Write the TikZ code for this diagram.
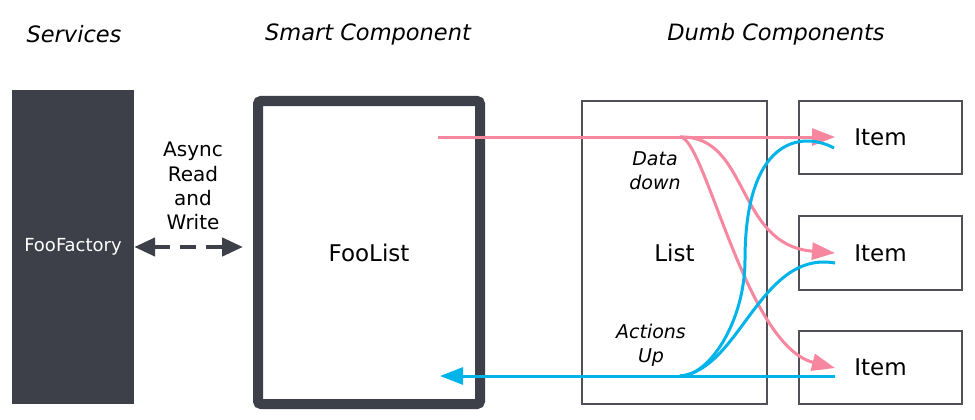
\documentclass[tikz,border=0pt]{standalone}
\usepackage{fontspec}
\setmainfont{DejaVu Sans}
\usetikzlibrary{arrows.meta,calc}
\definecolor{darkbox}{HTML}{3E4049}
\definecolor{pinkline}{HTML}{F6879F}
\definecolor{blueline}{HTML}{00B4EA}
\definecolor{grayedge}{HTML}{505056}
\begin{document}
\begin{tikzpicture}[x=1pt,y=-1pt,
  header/.style={font=\fontsize{22.5}{26}\selectfont\itshape, anchor=center},
  thinbox/.style={draw=grayedge, line width=1.5pt, fill=white, font=\fontsize{23}{26}\selectfont},
  note/.style={font=\fontsize{19}{24}\selectfont\itshape, align=center},
  pinkarrow/.style={pinkline, line width=3pt, -{Triangle[length=23pt,width=17pt]}},
  bluearrow/.style={blueline, line width=3pt, -{Triangle[length=23pt,width=17pt]}},
  bluecurve/.style={blueline, line width=3pt},
  dasharrow/.style={darkbox, line width=4.5pt, dash pattern=on 16pt off 10pt,
     {Triangle[length=21pt,width=18pt]}-{Triangle[length=21pt,width=18pt]}}
]
\useasboundingbox (0,0) rectangle (975,420);
\fill[white] (0,0) rectangle (975,420);

% headers
\node[header] (hserv) at (74,34) {Services};
\node[header] (hsmart) at (368,34) {Smart Component};
\node[header] (hdumb) at (776,34) {Dumb Components};

% service
\node[fill=darkbox, minimum width=122pt, minimum height=314pt, inner sep=0pt,
      text=white, font=\fontsize{18}{20}\selectfont] (factory) at (73,247) {FooFactory};

% smart component
\node[draw=darkbox, line width=10pt, rounded corners=3pt, minimum width=222pt,
      minimum height=303pt, inner sep=0pt, font=\fontsize{23}{26}\selectfont] (foolist) at (369,252.5) {FooList};

\node[font=\fontsize{20}{24.3}\selectfont, align=center] (async) at (193,186) {Async\\Read\\and\\Write};

\draw[dasharrow, shorten >=10pt] (factory.east) -- (factory.east -| foolist.west);

% dumb components
\node[thinbox, minimum width=185pt, minimum height=303pt, inner sep=0pt] (list) at (674.5,252.5) {List};
\node[thinbox, minimum width=163pt, minimum height=73pt, inner sep=0pt] (item1) at (880.5,137.5) {Item};
\node[thinbox, minimum width=163pt, minimum height=74pt, inner sep=0pt] (item2) at (880.5,253) {Item};
\node[thinbox, minimum width=163pt, minimum height=73pt, inner sep=0pt] (item3) at (880.5,367.5) {Item};

\node[note] (data) at (655,171) {Data\\down};
\node[note] (actions) at (651,345) {Actions\\Up};

% coordinates
\coordinate (ps) at (438,137);
\coordinate (pfork) at (680,137);
\coordinate (pi1) at (835,137);
\coordinate (pi2) at (835,253);
\coordinate (pi3) at (835,368);
\coordinate (bs) at (835,376);
\coordinate (bfork) at (680,376);
\coordinate (be) at (440,376);
\coordinate (bi1) at (834,148);
\coordinate (bi2) at (835,263);
\coordinate (bmid) at (745,260);

% pink data down
\draw[pinkarrow] (ps) -- (pi1);
\draw[pinkarrow] (pfork) .. controls (750,135) and (735,245) .. (pi2);
\draw[pinkarrow] (pfork) .. controls (705,137) and (745,345) .. (pi3);

% blue actions up
\draw[bluecurve] (bfork) .. controls (710,376) and (745,320) .. (bmid)
  .. controls (745,140) and (800,130) .. (bi1);
\draw[bluecurve] (bfork) .. controls (740,370) and (760,250) .. (bi2);
\draw[bluearrow] (bs) -- (be);
\end{tikzpicture}
\end{document}
